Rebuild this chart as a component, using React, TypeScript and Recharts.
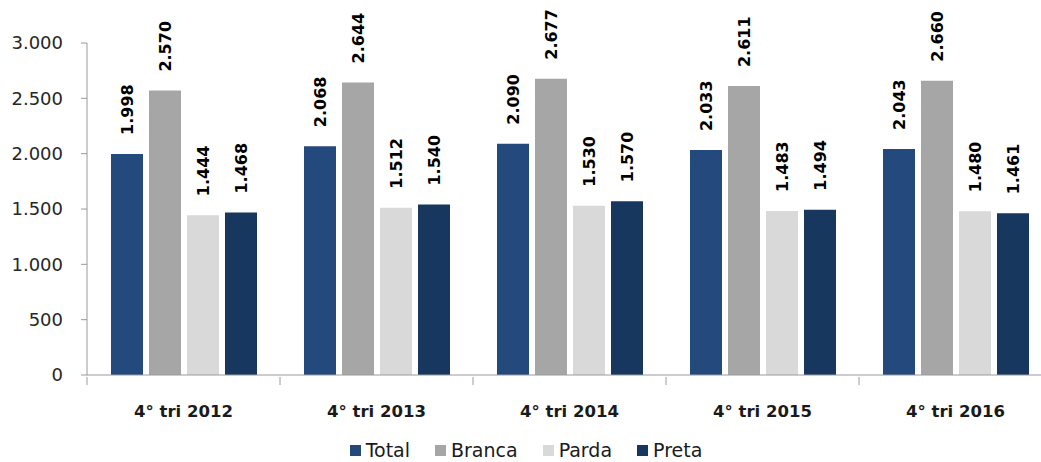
import { BarChart, Bar, XAxis, YAxis, Legend } from 'recharts';

const periods = ['4° tri 2012', '4° tri 2013', '4° tri 2014', '4° tri 2015', '4° tri 2016'];
const total = [1998, 2068, 2090, 2033, 2043];
const branca = [2570, 2644, 2677, 2611, 2660];
const parda = [1444, 1512, 1530, 1483, 1480];
const preta = [1468, 1540, 1570, 1494, 1461];
const yTicks = [0, 500, 1000, 1500, 2000, 2500, 3000];

const series = [
  { key: 'total', name: 'Total', color: '#244a7d' },
  { key: 'branca', name: 'Branca', color: '#a6a6a6' },
  { key: 'parda', name: 'Parda', color: '#d9d9d9' },
  { key: 'preta', name: 'Preta', color: '#17375e' },
];

const chartData = periods.map((p, i) => ({
  name: p,
  total: total[i],
  branca: branca[i],
  parda: parda[i],
  preta: preta[i],
}));

// 2570 -> "2.570"
const fmt = (v: number) => String(v).replace(/\B(?=(\d{3})+(?!\d))/g, '.');

const axisColor = '#9a9a9a';

// category label + tick marks on the category borders
const CategoryTick = (props: any) => {
  const { x, y, payload, index, visibleTicksCount } = props;
  const half = payload.offset || 0;
  return (
    <g>
      <line x1={x - half} x2={x - half} y1={y} y2={y + 8} stroke={axisColor} />
      {index === visibleTicksCount - 1 && (
        <line x1={x + half} x2={x + half} y1={y} y2={y + 8} stroke={axisColor} />
      )}
      <text x={x} y={y + 40} textAnchor="middle" fontFamily="DejaVu Sans" fontWeight="bold" fontSize={16.5} fill="#1a1a1a">
        {payload.value}
      </text>
    </g>
  );
};

// rotated value above each bar
const BarLabel = (props: any) => {
  const { x, y, width, value } = props;
  const cx = x + width / 2;
  const cy = y - 19;
  return (
    <text x={cx} y={cy} dy="0.36em" transform={`rotate(-90, ${cx}, ${cy})`} textAnchor="start"
      fontFamily="DejaVu Sans" fontWeight="bold" fontSize={16} fill="#000">
      {fmt(value)}
    </text>
  );
};

const LegendContent = () => (
  <div style={{ display: 'flex', justifyContent: 'center', height: 24, alignItems: 'center', fontFamily: 'DejaVu Sans', fontSize: 19, color: '#1a1a1a' }}>
    {series.map((s) => (
      <div key={s.key} style={{ display: 'flex', alignItems: 'center', margin: '0 12.5px' }}>
        <span style={{ width: 11, height: 11, background: s.color, display: 'inline-block', marginRight: 5 }} />
        {s.name}
      </div>
    ))}
  </div>
);

export default function App() {
  return (
    <div style={{ position: 'absolute', left: 0, top: 0, width: 1041, height: 462, overflow: 'hidden', background: '#fff' }}>
      <BarChart width={1056} height={462} data={chartData} margin={{ top: 43, right: 4, left: 0, bottom: 0 }}
        barSize={32} barGap={6}>
        <YAxis domain={[0, 3000]} ticks={yTicks} width={87} tickFormatter={fmt}
          stroke={axisColor} tickSize={6} tickMargin={18}
          tick={{ fill: '#262626', fontFamily: 'DejaVu Sans', fontSize: 18 }} />
        <XAxis dataKey="name" height={63} stroke={axisColor} tickLine={false} tickSize={0}
          tick={<CategoryTick />} interval={0} />
        <Legend verticalAlign="bottom" content={<LegendContent />} />
        {series.map((s) => (
          <Bar key={s.key} dataKey={s.key} name={s.name} fill={s.color} isAnimationActive={false}
            label={<BarLabel />} />
        ))}
      </BarChart>
    </div>
  );
}
